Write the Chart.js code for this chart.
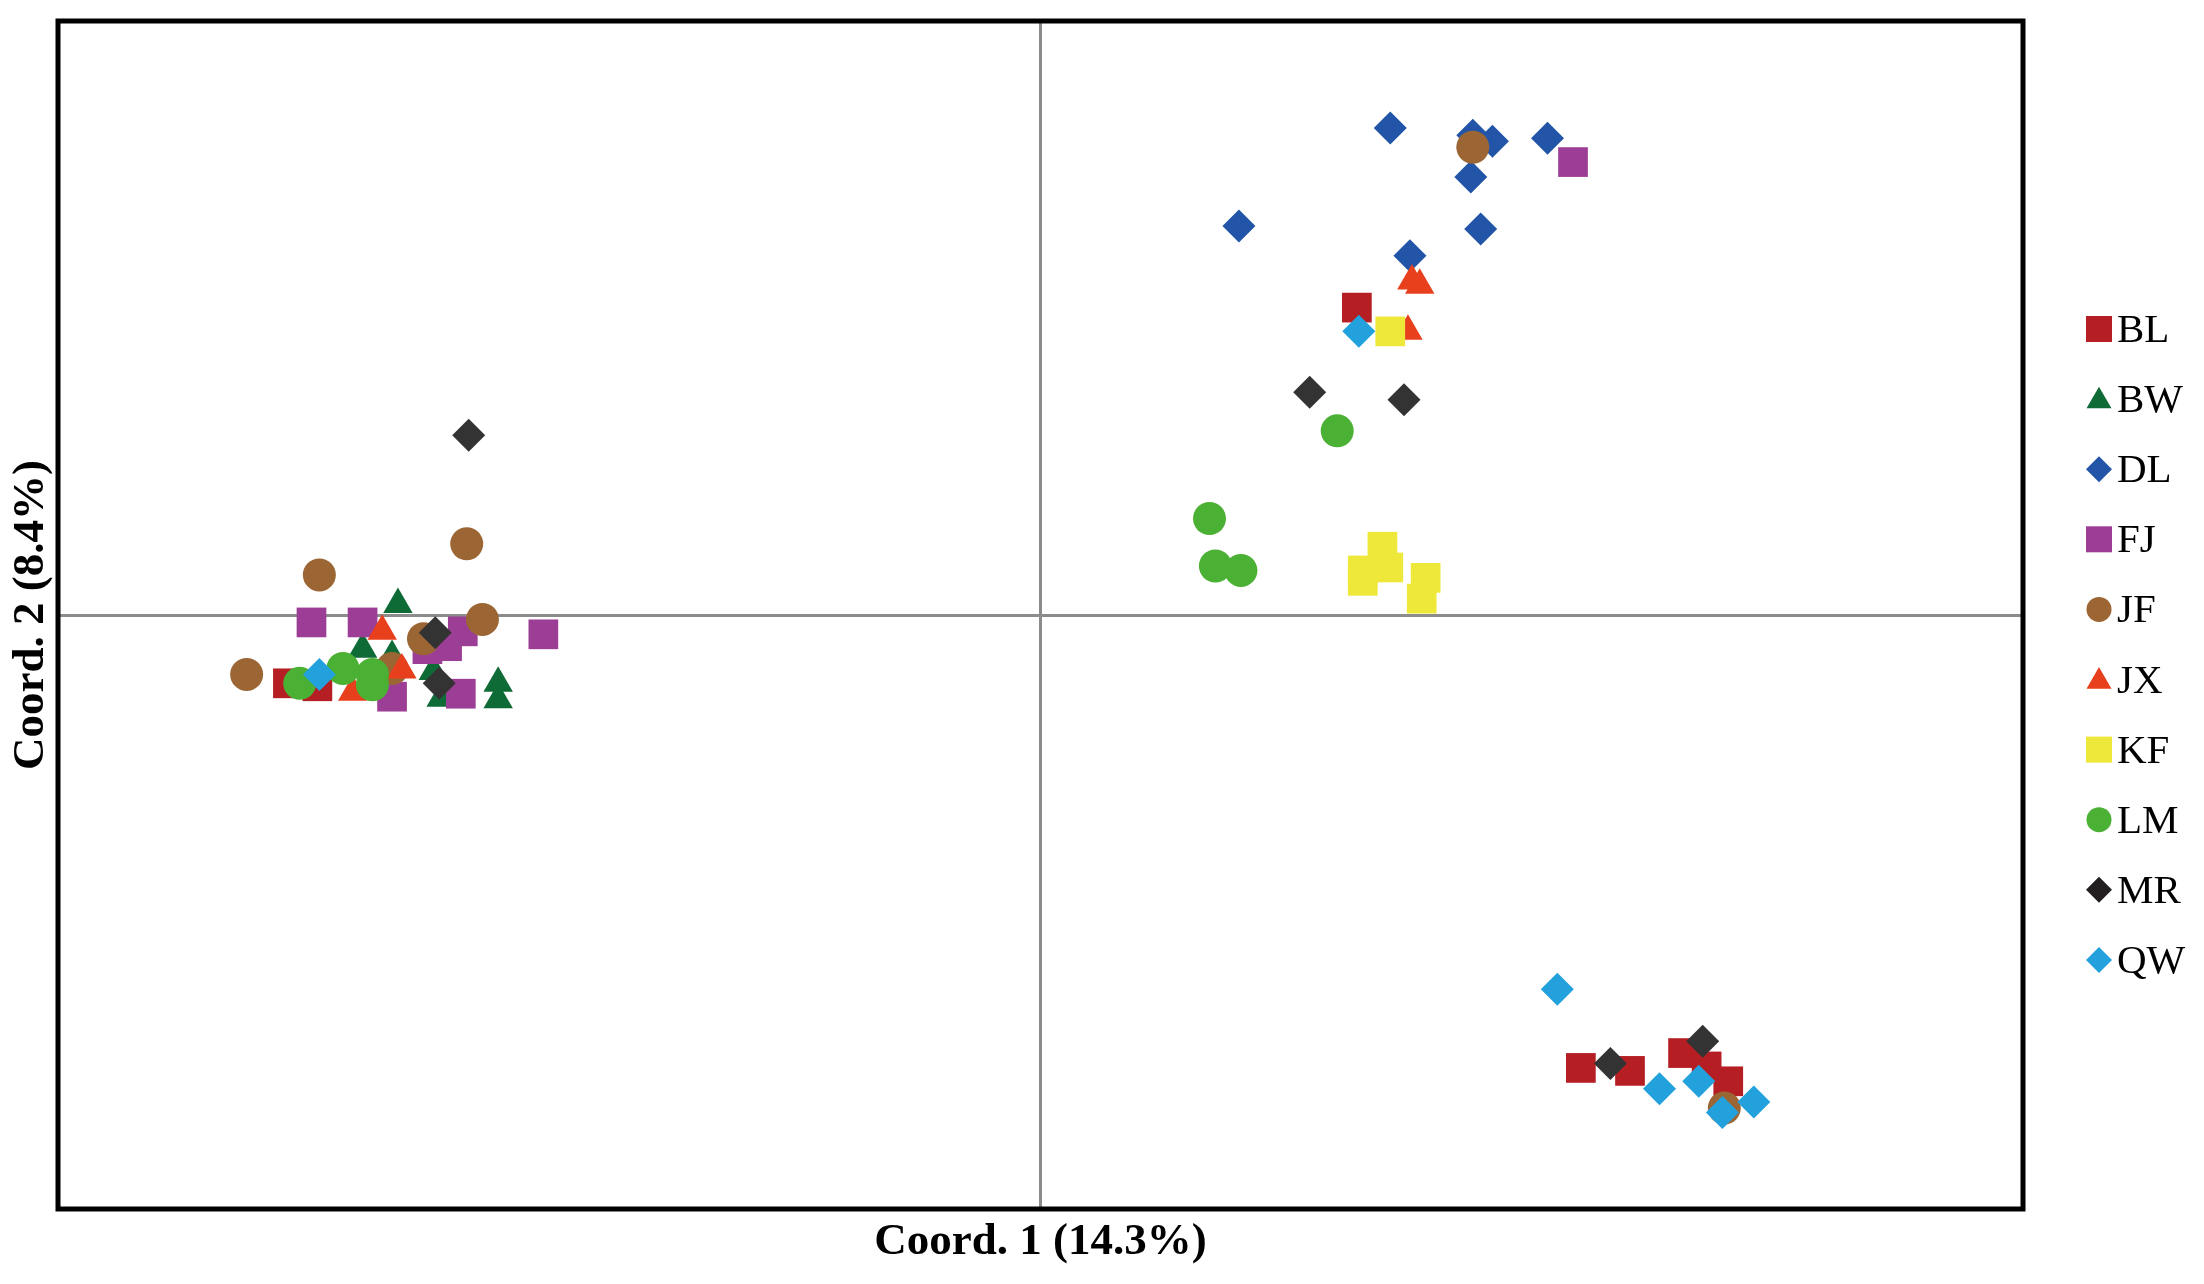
<!DOCTYPE html>
<html>
<head>
<meta charset="utf-8">
<script src="https://cdn.jsdelivr.net/npm/chart.js@4.4.3/dist/chart.umd.min.js"></script>
<style>
  html, body { margin: 0; padding: 0; background: #fff; }
  canvas { display: block; }
</style>
</head>
<body>
<canvas id="pcoa" width="2204" height="1284"></canvas>
<script>
// PCoA scores per population (x = Coord. 1, y = Coord. 2)
const groups = ['BL', 'BW', 'DL', 'FJ', 'JF', 'JX', 'KF', 'LM', 'MR', 'QW'];

const BL = [[-0.383, -0.046], [-0.368, -0.048], [0.161, 0.207], [0.275, -0.305],
            [0.300, -0.307], [0.327, -0.295], [0.339, -0.304], [0.350, -0.314]];
const BW = [[-0.327, 0.007], [-0.345, -0.023], [-0.330, -0.028], [-0.309, -0.038],
            [-0.305, -0.056], [-0.276, -0.046], [-0.276, -0.057]];
const DL = [[0.178, 0.328], [0.220, 0.323], [0.230, 0.319], [0.258, 0.321],
            [0.219, 0.295], [0.101, 0.262], [0.224, 0.260], [0.188, 0.242]];
const FJ = [[-0.371, -0.005], [-0.345, -0.005], [-0.294, -0.011], [-0.302, -0.021],
            [-0.312, -0.023], [-0.253, -0.013], [-0.330, -0.055], [-0.295, -0.053],
            [0.271, 0.305]];
const JF = [[-0.292, 0.048], [-0.367, 0.027], [-0.314, -0.016], [-0.284, -0.003],
            [-0.404, -0.040], [-0.330, -0.036], [0.220, 0.315], [0.348, -0.332]];
const JX = [[-0.335, -0.011], [-0.350, -0.052], [-0.325, -0.037], [0.189, 0.225],
            [0.193, 0.222], [0.187, 0.191]];
const KF = [[0.178, 0.191], [0.174, 0.046], [0.164, 0.030], [0.164, 0.023],
            [0.177, 0.032], [0.196, 0.025], [0.194, 0.011]];
const LM = [[-0.377, -0.046], [-0.355, -0.036], [-0.340, -0.040], [-0.340, -0.047],
            [0.151, 0.124], [0.086, 0.065], [0.089, 0.033], [0.102, 0.030]];
const MR = [[-0.291, 0.121], [-0.308, -0.012], [-0.306, -0.046], [0.137, 0.150],
            [0.185, 0.145], [0.290, -0.302], [0.337, -0.287]];
const QW = [[-0.367, -0.040], [0.162, 0.191], [0.263, -0.252], [0.315, -0.319],
            [0.335, -0.314], [0.347, -0.335], [0.363, -0.328]];

const scores = [BL, BW, DL, FJ, JF, JX, KF, LM, MR, QW];
const colors = ['#b51f24', '#0e6b35', '#2255a8', '#9c3e96', '#9b6634',
                '#e8401c', '#ede83a', '#4bb134', '#333333', '#22a1dd'];
const shapes = ['rect', 'triangle', 'rectRot', 'rect', 'circle',
                'triangle', 'rect', 'circle', 'rectRot', 'rectRot'];
const sizes = { rect: 21, triangle: 17, rectRot: 16.5, circle: 16.5 };
const legendSizes = { rect: 18.4, triangle: 14.4, rectRot: 13, circle: 12.5 };

const datasets = groups.map((g, i) => ({
  label: g,
  data: scores[i].map(p => ({ x: p[0], y: p[1] })),
  pointStyle: shapes[i],
  pointRadius: sizes[shapes[i]],
  pointHoverRadius: sizes[shapes[i]],
  backgroundColor: colors[i],
  borderColor: colors[i],
  pointBorderWidth: 0,
  order: groups.length - i   // later groups on top, like the original
}));

const zeroLine = ctx => ctx.tick && ctx.tick.value === 0 ? '#8c8c8c' : 'rgba(0,0,0,0)';

const framePlugin = {
  id: 'frame',
  afterDraw(chart) {
    const { ctx, chartArea: a } = chart;
    ctx.save();
    ctx.strokeStyle = '#000';
    ctx.lineWidth = 5;
    ctx.strokeRect(a.left, a.top, a.right - a.left, a.bottom - a.top);
    ctx.restore();
  }
};

const legendPlugin = {
  id: 'sideLegend',
  afterDraw(chart) {
    const ctx = chart.ctx;
    ctx.save();
    ctx.font = '41px "Liberation Serif", "Times New Roman", serif';
    ctx.textAlign = 'left';
    ctx.textBaseline = 'alphabetic';
    groups.forEach((g, i) => {
      const base = 342 + i * 70.1;
      const style = shapes[i];
      const cy = style === 'triangle' ? base - 11 : base - 13;
      ctx.fillStyle = i === 8 ? '#231f20' : colors[i];
      Chart.helpers.drawPoint(ctx, {
        pointStyle: style, radius: legendSizes[style], rotation: 0, borderWidth: 0
      }, 2099, cy);
      ctx.fillStyle = '#000';
      ctx.fillText(g, 2117, base);
    });
    ctx.restore();
  }
};

new Chart(document.getElementById('pcoa'), {
  type: 'scatter',
  data: { datasets: datasets },
  options: {
    responsive: false,
    devicePixelRatio: 1,
    animation: false,
    layout: { padding: { top: 17, right: 181, bottom: 14.5, left: 4 } },
    plugins: { legend: { display: false }, tooltip: { enabled: false } },
    scales: {
      x: {
        min: -0.5, max: 0.5,
        ticks: { display: false, stepSize: 0.5 },
        grid: { color: zeroLine, lineWidth: 3, drawTicks: false },
        border: { display: false },
        title: {
          display: true, text: 'Coord. 1 (14.3%)', color: '#000',
          font: { family: 'Liberation Serif', size: 45, weight: 'bold' },
          padding: { top: 6.5, bottom: 0 }
        }
      },
      y: {
        min: -0.4, max: 0.4,
        ticks: { display: false, stepSize: 0.4 },
        grid: { color: zeroLine, lineWidth: 3, drawTicks: false },
        border: { display: false },
        title: {
          display: true, text: 'Coord. 2 (8.4%)', color: '#000',
          font: { family: 'Liberation Serif', size: 45, weight: 'bold' },
          padding: { top: 0, bottom: 0 }
        }
      }
    }
  },
  plugins: [framePlugin, legendPlugin]
});
</script>
</body>
</html>
